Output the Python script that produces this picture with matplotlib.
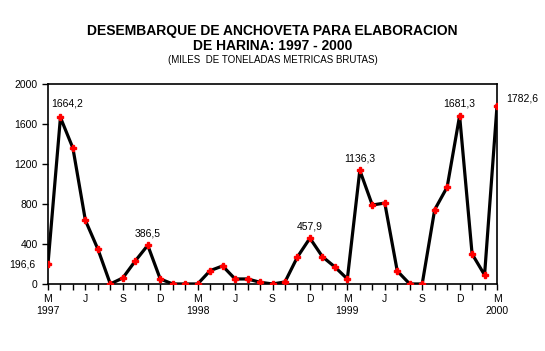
import matplotlib
matplotlib.use("Agg")
import matplotlib.pyplot as plt

plt.rcParams['font.family'] = ['Liberation Sans', 'DejaVu Sans']

# monthly landings, March 1997 - March 2000 (thousand t)
values = [196.6, 1664.2, 1358, 636, 349, 0, 60, 230, 386.5, 50,
          0, 0, 0, 133, 180, 50, 50, 17, 0, 20, 270, 457.9,
          273, 170, 50, 1136.3, 789, 809, 130, 0, 0, 742, 968, 1681.3,
          300, 90, 1782.6]
month_letters = ['M', 'J', 'S', 'D'] * 4
month_letters = month_letters[:13]
year_labels = ['1997', '1998', '1999', '2000']
labelled = {0: '196,6', 1: '1664,2', 8: '386,5', 21: '457,9',
            25: '1136,3', 33: '1681,3', 36: '1782,6'}
y_ticks = [0, 400, 800, 1200, 1600, 2000]

x = list(range(len(values)))

fig = plt.figure(figsize=(5.45, 3.51), dpi=100)
ax = fig.add_axes([0.088, 0.191, 0.824, 0.570])

ax.plot(x, values, color='black', lw=2.3, zorder=2)
ax.plot(x, values, ls='none', marker='P', ms=4, color='red', mec='red', zorder=3)

for i, txt in labelled.items():
    if i == 0:
        ax.text(-1.0, values[i], txt, ha='right', va='center', fontsize=7.5)
    elif i == 1:
        ax.text(i + 0.5, values[i] + 90, txt, ha='center', va='bottom', fontsize=7.5)
    elif i == len(values) - 1:
        ax.text(i + 0.7, values[i] + 20, txt, ha='left', va='bottom', fontsize=7.5)
    else:
        ax.text(i, values[i] + 70, txt, ha='center', va='bottom', fontsize=7.5)

ax.set_xlim(0, len(values) - 1)
ax.set_ylim(0, 2000)
ax.set_yticks(y_ticks)
ax.set_yticklabels([str(v) for v in y_ticks], fontsize=7.5)

ax.set_xticks(x, minor=True)
major = list(range(0, len(values), 3))
ax.set_xticks(major)
ax.set_xticklabels(month_letters, fontsize=7.5)
ax.tick_params(axis='x', which='both', length=4, direction='out', width=1)
ax.tick_params(axis='y', length=4, direction='out', width=1)

for k, yr in enumerate(year_labels):
    ax.text(k * 12, -0.11, yr, transform=ax.get_xaxis_transform(),
            ha='center', va='top', fontsize=7.5)

for s in ax.spines.values():
    s.set_linewidth(1.2)

fig.text(0.5, 0.900, 'DESEMBARQUE DE ANCHOVETA PARA ELABORACION',
         ha='center', fontsize=10, fontweight='bold')
fig.text(0.5, 0.857, 'DE HARINA: 1997 - 2000',
         ha='center', fontsize=10, fontweight='bold')
fig.text(0.5, 0.820, '(MILES  DE TONELADAS METRICAS BRUTAS)',
         ha='center', fontsize=7)

fig.savefig('out.png', dpi=100)
